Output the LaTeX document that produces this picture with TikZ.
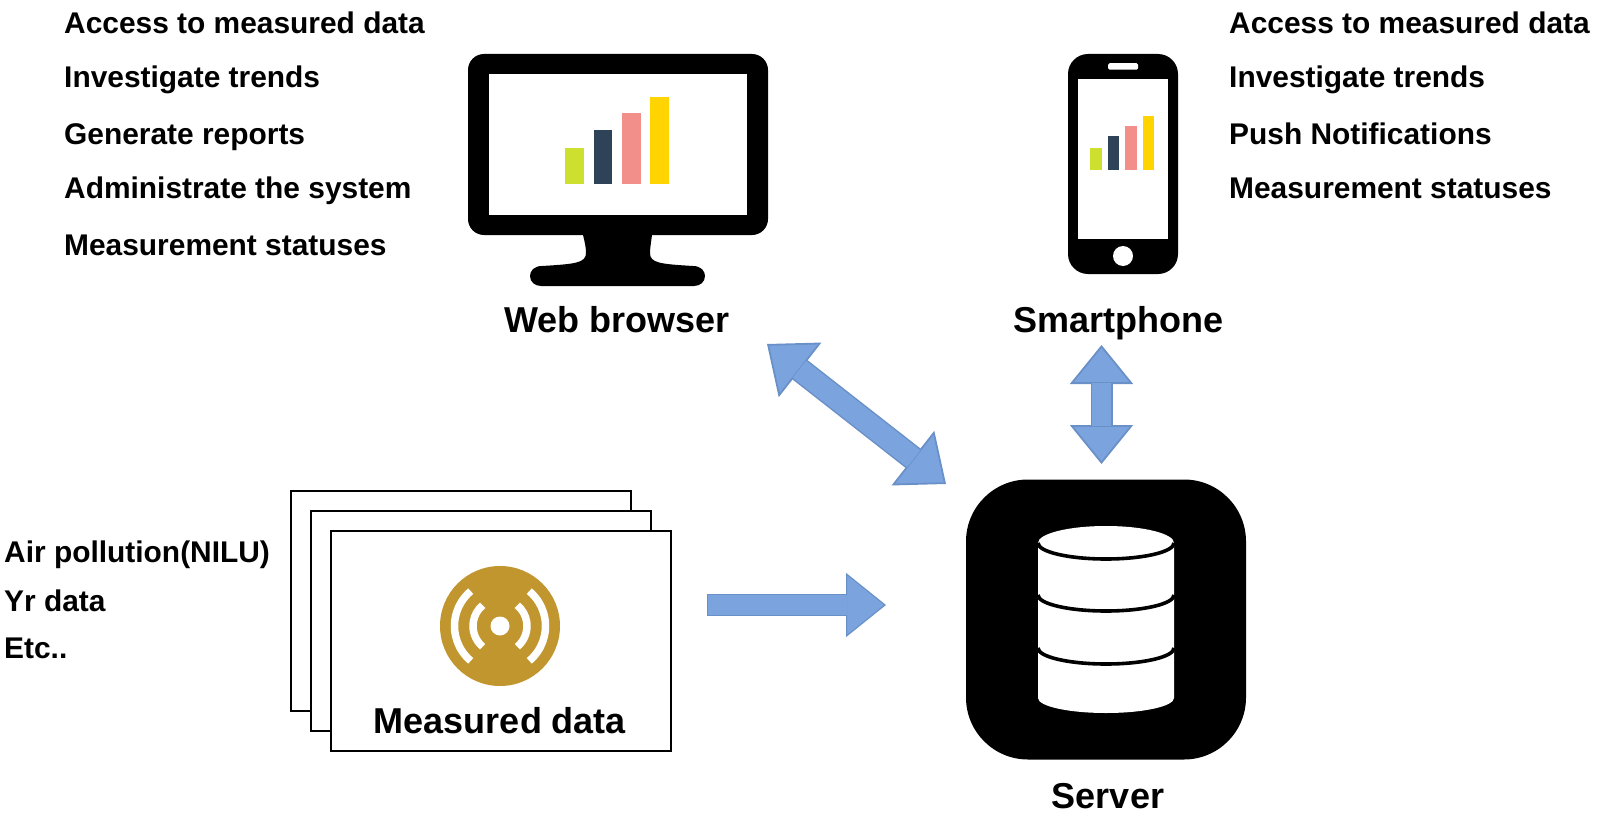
\documentclass[tikz,border=0pt]{standalone}
\usepackage{fontspec}
\setmainfont{Liberation Sans}
\usetikzlibrary{arrows.meta}
\definecolor{arrowfill}{HTML}{7BA4DF}
\definecolor{arrowedge}{HTML}{6A90C8}
\definecolor{gold}{HTML}{C1962F}
\definecolor{barA}{HTML}{CDE02F}
\definecolor{barB}{HTML}{2E4258}
\definecolor{barC}{HTML}{F38F8B}
\definecolor{barD}{HTML}{FFD400}
\tikzset{
  listtext/.style={anchor=base west,inner sep=0pt,font=\fontsize{29.9}{30}\selectfont\bfseries},
  titletext/.style={anchor=base,inner sep=0pt,font=\fontsize{36}{36}\selectfont\bfseries},
  sheet/.style={draw=black,line width=2pt,fill=white,minimum width=340pt,minimum height=220pt,inner sep=0pt},
  solidbox/.style={fill=black,inner sep=0pt},
  whitebox/.style={fill=white,inner sep=0pt},
  dbline/.style={draw=black,line width=3.6pt},
  tipdiag/.tip={Triangle[length=42pt,width=69pt,line width=1.8pt,fill=arrowfill,color=arrowedge]},
  tipvert/.tip={Triangle[length=39pt,width=63pt,line width=1.8pt,fill=arrowfill,color=arrowedge]},
  tiphoriz/.tip={Triangle[length=40pt,width=64pt,line width=1.2pt,fill=arrowfill,color=arrowedge]},
}
\begin{document}
\begin{tikzpicture}[x=1pt,y=-1pt]
\useasboundingbox (0,0) rectangle (1607,816);
% monitor
\fill (583,235) .. controls (585,243) and (586,248) .. (586,253)
  .. controls (586,263) and (575,264) .. (542,266)
  .. controls (534,266) and (530,271) .. (530,276)
  .. controls (530,282) and (535,286) .. (541,286) -- (694,286)
  .. controls (700,286) and (705,282) .. (705,276)
  .. controls (705,271) and (701,266) .. (693,266)
  .. controls (660,264) and (650,263) .. (650,253)
  .. controls (650,248) and (651,243) .. (652,235) -- cycle;
\node[solidbox,rounded corners=16pt,minimum width=300pt,minimum height=181pt] (monitor) at (618,144.5) {};
\node[whitebox,minimum width=258pt,minimum height=141pt] (monitorscreen) at (618,144.5) {};
\fill[barA] (565,148) rectangle (584,184);
\fill[barB] (593.5,130) rectangle (612,184);
\fill[barC] (622,113) rectangle (640.5,184);
\fill[barD] (650,97) rectangle (669,184);
% phone
\node[solidbox,rounded corners=20pt,minimum width=110pt,minimum height=220pt] (phone) at (1123,164) {};
\node[whitebox,minimum width=90pt,minimum height=160pt] (phonescreen) at (1123,159) {};
\node[whitebox,rounded corners=1.5pt,minimum width=30pt,minimum height=6.5pt] (speaker) at (1123,66.5) {};
\node[whitebox,circle,minimum size=20pt] (homebutton) at (1123,256) {};
\fill[barA] (1090,148) rectangle (1101.5,170);
\fill[barB] (1107.5,136) rectangle (1119,170);
\fill[barC] (1125,126) rectangle (1136.5,170);
\fill[barD] (1142.5,116) rectangle (1154,170);
% sheets
\node[sheet] (sheetC) at (461,601) {};
\node[sheet] (sheetB) at (481,621) {};
\node[sheet] (sheetA) at (501,641) {};
\node[circle,fill=gold,minimum size=120pt,inner sep=0pt] (signal) at (500,626) {};
\node[circle,fill=white,minimum size=19pt,inner sep=0pt] (signaldot) at (500,626) {};
\draw[white,line width=7.5pt] (signal.center) ++(50:45.5) arc[start angle=50,end angle=-50,radius=45.5];
\draw[white,line width=7.5pt] (signal.center) ++(130:45.5) arc[start angle=130,end angle=230,radius=45.5];
\draw[white,line width=7.5pt] (signal.center) ++(50:27) arc[start angle=50,end angle=-50,radius=27];
\draw[white,line width=7.5pt] (signal.center) ++(130:27) arc[start angle=130,end angle=230,radius=27];
% server
\node[solidbox,rounded corners=62pt,minimum width=280pt,minimum height=280pt] (server) at (1106,619.5) {};
\fill[white] (1038,543) -- (1038,698) arc[start angle=180,end angle=0,x radius=68,y radius=15]
  -- (1174,543) arc[start angle=0,end angle=-180,x radius=68,y radius=17] -- cycle;
\draw[dbline] (1038,543) arc[start angle=180,end angle=0,x radius=68,y radius=16];
\draw[dbline] (1038,595) arc[start angle=180,end angle=0,x radius=68,y radius=16];
\draw[dbline] (1038,648) arc[start angle=180,end angle=0,x radius=68,y radius=16];
% connectors
\coordinate (webEnd) at (767,344);
\coordinate (serverNW) at (946,484);
\coordinate (phoneEnd) at (1101.5,345);
\coordinate (serverN) at (1101.5,464);
\coordinate (dataEnd) at (707,605);
\coordinate (serverW) at (886,605);
\draw[arrowedge,line width=24.5pt,{tipdiag}-{tipdiag},
  postaction={draw=arrowfill,line width=21.5pt,-,shorten <=41pt,shorten >=41pt}] (webEnd) -- (serverNW);
\draw[arrowedge,line width=22pt,{tipvert}-{tipvert},
  postaction={draw=arrowfill,line width=19pt,-,shorten <=38pt,shorten >=38pt}] (phoneEnd) -- (serverN);
\draw[arrowedge,line width=22pt,-{tiphoriz},
  postaction={draw=arrowfill,line width=20pt,-,shorten <=1pt,shorten >=39pt}] (dataEnd) -- (serverW);
% titles
\node[titletext] (webtitle) at (617,332) {Web browser};
\node[titletext] (phonetitle) at (1118.5,332) {Smartphone};
\node[titletext] (datatitle) at (500,733) {Measured data};
\node[titletext] (servertitle) at (1108,808) {Server};
% left list
\node[listtext] (w1) at (64,33.5) {Access to measured data};
\node[listtext] (w2) at (64,88) {Investigate trends};
\node[listtext] (w3) at (64,144) {Generate reports};
\node[listtext] (w4) at (64,198) {Administrate the system};
\node[listtext] (w5) at (64,255) {Measurement statuses};
% right list
\node[listtext] (p1) at (1229,33.5) {Access to measured data};
\node[listtext] (p2) at (1229,88) {Investigate trends};
\node[listtext] (p3) at (1229,144) {Push Notifications};
\node[listtext] (p4) at (1229,198) {Measurement statuses};
% sources
\node[listtext] (s1) at (4,562) {Air pollution(NILU)};
\node[listtext] (s2) at (4,611) {Yr data};
\node[listtext] (s3) at (4,658) {Etc..};
\end{tikzpicture}
\end{document}
